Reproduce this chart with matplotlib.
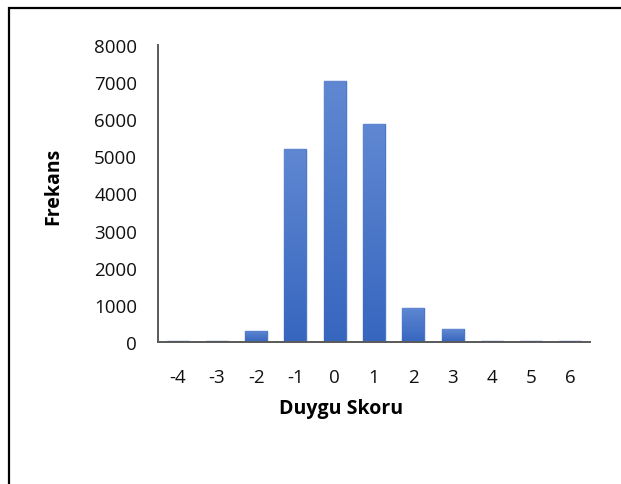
import matplotlib.pyplot as plt
import numpy as np
from matplotlib.colors import LinearSegmentedColormap
from matplotlib.patches import Rectangle

scores = ["-4", "-3", "-2", "-1", "0", "1", "2", "3", "4", "5", "6"]
freq = [20, 40, 300, 5200, 7030, 5880, 920, 350, 15, 15, 15]
y_ticks = [0, 1000, 2000, 3000, 4000, 5000, 6000, 7000, 8000]

plt.rcParams['font.family'] = ['Open Sans', 'DejaVu Sans']

fig = plt.figure(figsize=(6.21, 4.85), dpi=100)
ax = fig.add_axes([158 / 621, 1 - 343 / 485, 432 / 621, 297 / 485])

x = np.arange(len(scores))
bars = ax.bar(x, freq, width=0.56, color='#4472C4', edgecolor='#4A78C9', linewidth=1.0, zorder=2)

# vertical gradient inside each bar, like the Excel fill
grad_cmap = LinearSegmentedColormap.from_list('bar_grad', ['#3766BF', '#6088D2'])
grad = np.linspace(0, 1, 256).reshape(-1, 1)
for b in bars:
    x0, y0 = b.get_x(), b.get_y()
    w, h = b.get_width(), b.get_height()
    im = ax.imshow(grad, cmap=grad_cmap, aspect='auto', origin='lower',
                   extent=[x0, x0 + w, y0, y0 + max(h, 1)], zorder=2.5)
    im.set_clip_path(b)

ax.set_xlim(-0.5, len(scores) - 0.5)
ax.set_ylim(0, 8000)
ax.set_xticks(x)
ax.set_xticklabels(scores)
ax.set_yticks(y_ticks)
ax.tick_params(axis='both', length=0, labelsize=13.5, colors='#111111')
ax.tick_params(axis='x', pad=18.5)
ax.tick_params(axis='y', pad=15)

for side in ['top', 'right']:
    ax.spines[side].set_visible(False)
for side in ['left', 'bottom']:
    ax.spines[side].set_color('#595959')
    ax.spines[side].set_linewidth(1.4)

ax.set_ylabel("Frekans", fontsize=14, fontweight='bold', color='black')
ax.yaxis.set_label_coords(-0.22, 0.527)
ax.set_xlabel("Duygu Skoru", fontsize=14, fontweight='bold', color='black')
ax.xaxis.set_label_coords(0.424, -0.189)

# outer frame around the chart (right and bottom cut off)
frame = Rectangle((8.5 / 621, -0.1), 1.2, 1.1 - 8.5 / 485,
                  transform=fig.transFigure, fill=False, edgecolor='black',
                  linewidth=1.6, clip_on=False)
fig.patches.append(frame)

plt.savefig("out.png", dpi=100)
